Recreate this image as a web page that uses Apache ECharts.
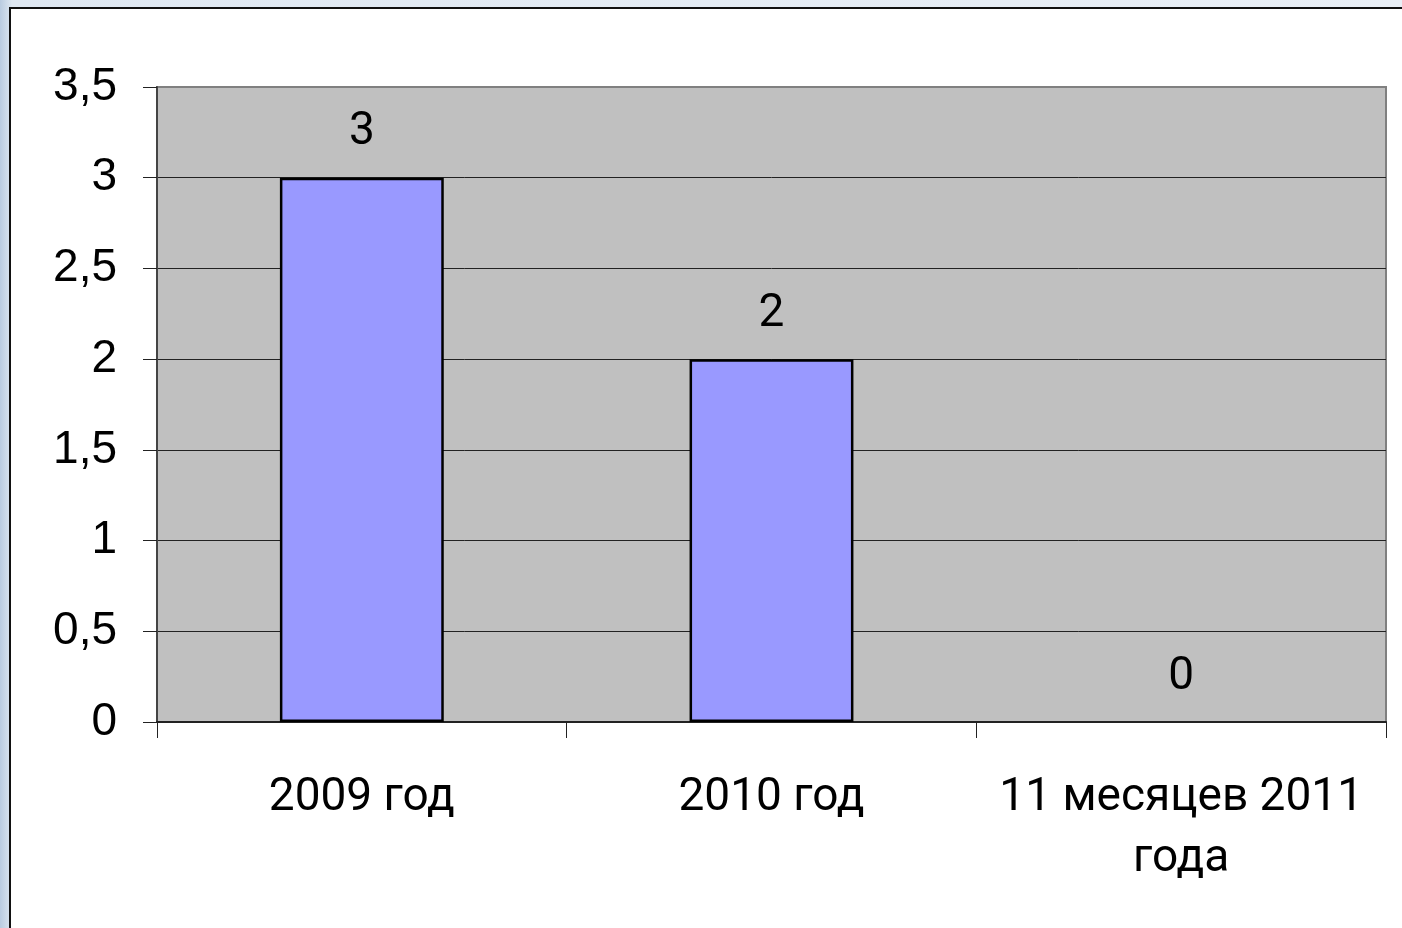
<!DOCTYPE html>
<html>
<head>
<meta charset="utf-8">
<script src="https://cdn.jsdelivr.net/npm/echarts@6/dist/echarts.min.js"></script>
<style>
  html, body { margin: 0; padding: 0; width: 1402px; height: 928px; overflow: hidden; }
  body { background: linear-gradient(90deg, #b9cbe0 0px, #dfe8f2 12px, #e9eff6 100%); }
  #graph1 {
    position: absolute; left: 9px; top: 7px; width: 1393px; height: 921px;
    box-sizing: border-box; border-left: 2px solid #111; border-top: 2px solid #111;
    background: #fff;
  }
</style>
</head>
<body>
<div id="graph1"></div>
<script>
// categories and values
var categories = ['2009 год', '2010 год', '11 месяцев 2011\nгода'];
var values = [3, 2, 0];

var myChart = echarts.init(document.getElementById('graph1'));
var option = {
    backgroundColor: '#fff',
    animation: false,
    grid: {
        left: 146,
        top: 78,
        right: 16,
        bottom: 206,
        show: true,
        backgroundColor: '#c0c0c0',
        borderColor: '#808080',
        borderWidth: 2
    },
    xAxis: {
        type: 'category',
        data: categories,
        axisLine: { lineStyle: { color: '#222', width: 2 } },
        axisTick: { show: true, length: 16, lineStyle: { color: '#222', width: 1 } },
        axisLabel: {
            interval: 0,
            hideOverlap: false,
            margin: 46,
            fontSize: 46,
            lineHeight: 61,
            color: '#000',
            fontFamily: 'Roboto'
        }
    },
    yAxis: {
        type: 'value',
        min: 0,
        max: 3.5,
        interval: 0.5,
        axisLine: { show: true, lineStyle: { color: '#444', width: 2 } },
        axisTick: { show: true, length: 14, lineStyle: { color: '#222', width: 1 } },
        axisLabel: {
            margin: 40,
            fontSize: 46,
            color: '#000',
            fontFamily: 'Liberation Sans',
            formatter: function (v) { return String(v).replace('.', ','); }
        },
        splitLine: {
            lineStyle: {
                color: ['#222', '#222', '#222', '#222', '#222', '#222', '#222', '#808080'],
                width: 1
            }
        }
    },
    series: [{
        type: 'bar',
        data: values.map(function (v) {
            // a zero bar has no visible outline in the original
            return v === 0 ? { value: v, itemStyle: { borderWidth: 0 } } : v;
        }),
        barWidth: '40%',
        itemStyle: { color: '#9999ff', borderColor: '#000', borderWidth: 2.5 },
        label: {
            show: true,
            position: 'top',
            distance: 22,
            fontSize: 46,
            color: '#000',
            fontFamily: 'Roboto'
        }
    }]
};
myChart.setOption(option, true);
</script>
</body>
</html>
